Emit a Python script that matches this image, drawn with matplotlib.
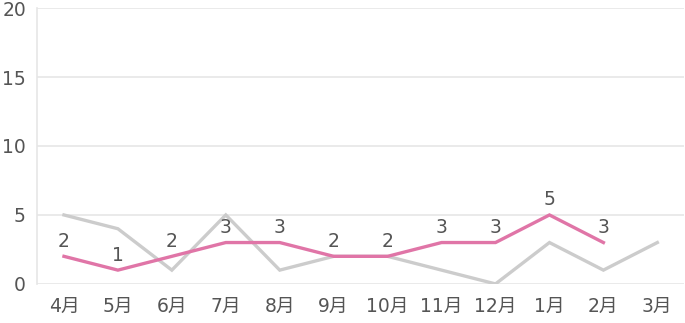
import numpy as np
import matplotlib.pyplot as plt

plt.rcParams['font.family'] = ['DejaVu Sans', 'Noto Sans CJK JP']

# data
months = ["4月", "5月", "6月", "7月", "8月", "9月", "10月", "11月", "12月", "1月", "2月", "3月"]
last_year = [5, 4, 1, 5, 1, 2, 2, 1, 0, 3, 1, 3]
this_year = [2, 1, 2, 3, 3, 2, 2, 3, 3, 5, 3]
y_ticks = [0, 5, 10, 15, 20]

pink = "#e075a7"
gray = "#cccccc"
text_color = "#555555"

fig = plt.figure(figsize=(6.85, 3.23), dpi=100)
ax = fig.add_axes([0.054, 0.121, 0.945, 0.854])

x = np.arange(len(months))
ax.plot(x, last_year, color=gray, linewidth=2.4, solid_joinstyle="miter", zorder=2)
xt = np.arange(len(this_year))
ax.plot(xt, this_year, color=pink, linewidth=2.4, solid_joinstyle="miter", zorder=3)

# value labels over this year's line
for xi, v in zip(xt, this_year):
    ax.annotate(str(v), (xi, v), xytext=(0, 4), textcoords="offset points",
                ha="center", va="bottom", fontsize=13.5, color=text_color, zorder=4)

ax.set_xlim(-0.5, len(months) - 0.5)
ax.set_ylim(0, 20)
ax.set_yticks(y_ticks)
ax.set_xticks(x)
ax.set_xticklabels(months)
ax.grid(axis="y", color="#e6e6e6", linewidth=1.2, zorder=0)
ax.set_axisbelow(True)

for side in ["top", "right", "bottom"]:
    ax.spines[side].set_visible(False)
ax.spines["left"].set_color("#e6e6e6")
ax.spines["left"].set_linewidth(1.2)

ax.tick_params(axis="both", length=0, colors=text_color, labelsize=13.5)
ax.tick_params(axis="x", pad=9)
ax.tick_params(axis="y", pad=8)

fig.savefig("out.png", dpi=100)
